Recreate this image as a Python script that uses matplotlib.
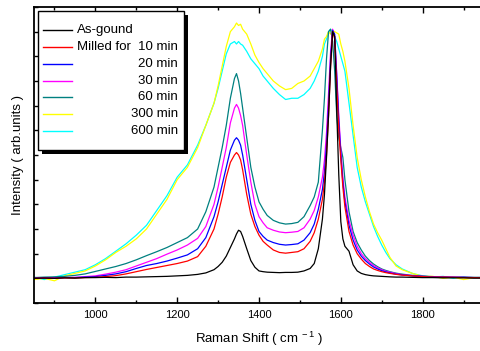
import matplotlib
matplotlib.use("Agg")
import matplotlib.pyplot as plt
from matplotlib.patches import Rectangle
from matplotlib.ticker import MultipleLocator

plt.rcParams['font.family'] = ['Liberation Sans', 'DejaVu Sans']
plt.rcParams['mathtext.fontset'] = 'custom'
plt.rcParams['mathtext.rm'] = 'Liberation Sans'
plt.rcParams['mathtext.it'] = 'Liberation Sans'

# Raman shift grid (cm^-1)
shift = [850, 875, 900, 925, 950, 975, 1000, 1025, 1050, 1075, 1100, 1125, 1150, 1175, 1200, 1225, 1250,
         1270, 1290, 1300, 1310, 1320, 1330, 1340, 1345, 1350, 1355, 1360, 1370, 1380, 1390, 1400, 1410,
         1420, 1435, 1450, 1465, 1480, 1495, 1510, 1525, 1535, 1545, 1555, 1560, 1565, 1570, 1575, 1580,
         1585, 1590, 1595, 1600, 1605, 1610, 1620, 1630, 1640, 1650, 1660, 1670, 1680, 1690, 1700, 1710,
         1720, 1735, 1750,
         1775, 1800, 1825, 1850, 1875, 1900, 1925, 1950]

as_ground = [0.00, 0.01, 0.00, 0.02, 0.01, 0.03, 0.03, 0.04, 0.03, 0.05, 0.05, 0.06, 0.07, 0.08, 0.10, 0.12, 0.16,
             0.22, 0.35, 0.48, 0.65, 0.90, 1.25, 1.60, 1.80, 1.95, 1.90, 1.70, 1.20, 0.72, 0.45, 0.30, 0.27,
             0.25, 0.24, 0.23, 0.24, 0.24, 0.25, 0.30, 0.40, 0.60, 1.20, 2.40, 3.40, 4.90, 6.60, 8.60, 10.0,
             9.80, 6.80, 4.20, 2.30, 1.60, 1.30, 1.10, 0.55, 0.30, 0.20, 0.15, 0.12, 0.10, 0.09, 0.08, 0.07,
             0.06, 0.05, 0.05,
             0.04, 0.03, 0.03, 0.02, 0.02, 0.02, 0.01, 0.01]

milled_10 = [0.00, 0.01, 0.00, 0.02, 0.01, 0.03, 0.04, 0.07, 0.11, 0.18, 0.27, 0.36, 0.44, 0.52, 0.60, 0.70, 0.88,
             1.30, 2.00, 2.60, 3.30, 4.10, 4.70, 5.00, 5.10, 5.00, 4.80, 4.40, 3.40, 2.60, 2.10, 1.75, 1.50,
             1.35, 1.15, 1.05, 1.02, 1.05, 1.08, 1.20, 1.50, 1.85, 2.40, 3.20, 3.90, 5.00, 6.60, 8.60, 10.0,
             9.70, 7.80, 6.00, 4.80, 3.70, 2.90, 1.90, 1.35, 1.00, 0.78, 0.60, 0.48, 0.38, 0.32, 0.27, 0.23,
             0.20, 0.16, 0.13,
             0.10, 0.07, 0.05, 0.05, 0.04, 0.03, 0.03, 0.02]

milled_20 = [0.00, 0.02, 0.01, 0.03, 0.03, 0.05, 0.07, 0.12, 0.18, 0.27, 0.40, 0.52, 0.60, 0.70, 0.82, 0.95, 1.20,
             1.65, 2.50, 3.10, 3.80, 4.50, 5.20, 5.60, 5.70, 5.60, 5.40, 5.00, 4.00, 3.00, 2.35, 1.90, 1.70,
             1.55, 1.45, 1.38, 1.35, 1.37, 1.40, 1.55, 1.85, 2.20, 2.80, 3.60, 4.30, 5.40, 7.00, 8.90, 10.05,
             9.90, 8.20, 6.40, 5.00, 3.90, 3.10, 2.15, 1.55, 1.15, 0.90, 0.72, 0.58, 0.46, 0.38, 0.31, 0.26,
             0.22, 0.17, 0.14,
             0.10, 0.08, 0.06, 0.05, 0.04, 0.04, 0.03, 0.03]

milled_30 = [0.00, 0.02, 0.02, 0.03, 0.04, 0.07, 0.10, 0.17, 0.25, 0.35, 0.50, 0.65, 0.80, 0.98, 1.15, 1.35, 1.62,
             2.10, 3.00, 3.70, 4.50, 5.30, 6.30, 6.90, 7.05, 6.90, 6.60, 6.20, 5.00, 3.90, 3.00, 2.50, 2.25,
             2.05, 1.95, 1.88, 1.85, 1.87, 1.90, 2.05, 2.40, 2.75, 3.30, 4.10, 4.80, 5.90, 7.50, 9.20, 10.1,
             9.80, 8.30, 6.60, 5.20, 4.10, 3.30, 2.35, 1.75, 1.30, 1.00, 0.80, 0.65, 0.52, 0.43, 0.35, 0.29,
             0.25, 0.19, 0.15,
             0.11, 0.08, 0.06, 0.05, 0.05, 0.04, 0.03, 0.03]

milled_60 = [0.03, 0.05, 0.06, 0.08, 0.12, 0.18, 0.28, 0.38, 0.48, 0.60, 0.75, 0.92, 1.08, 1.25, 1.45, 1.65, 2.00,
             2.70, 3.70, 4.50, 5.30, 6.20, 7.30, 8.10, 8.30, 8.00, 7.50, 6.90, 5.70, 4.50, 3.70, 3.10, 2.80,
             2.55, 2.35, 2.25, 2.20, 2.22, 2.27, 2.50, 2.95, 3.30, 3.90, 6.00, 7.30, 8.90, 10.0, 10.1, 9.60,
             8.40, 6.60, 5.70, 5.30, 4.90, 4.00, 2.70, 1.90, 1.45, 1.15, 0.90, 0.72, 0.58, 0.47, 0.38, 0.32,
             0.27, 0.21, 0.17,
             0.12, 0.09, 0.07, 0.06, 0.05, 0.05, 0.04, 0.04]

milled_300 = [-0.05, 0.00, -0.10, 0.10, 0.20, 0.30, 0.50, 0.75, 1.05, 1.30, 1.60, 2.00, 2.60, 3.20, 4.00, 4.50, 5.30,
              6.20, 7.10, 7.80, 8.60, 9.40, 10.0, 10.2, 10.35, 10.25, 10.3, 10.1, 9.90, 9.50, 9.05, 8.75, 8.50,
              8.30, 8.00, 7.80, 7.65, 7.70, 7.90, 8.00, 8.20, 8.50, 8.80, 9.30, 9.70, 9.80, 10.0, 9.90, 10.05,
              10.0, 9.95, 9.90, 9.50, 9.20, 8.80, 7.70, 6.20, 4.90, 4.00, 3.30, 2.70, 2.20, 1.85, 1.55, 1.20,
              0.85, 0.50, 0.35,
              0.20, 0.08, 0.08, 0.00, 0.05, -0.05, 0.02, 0.00]

milled_600 = [0.05, -0.05, 0.05, 0.15, 0.25, 0.35, 0.55, 0.80, 1.10, 1.40, 1.75, 2.15, 2.75, 3.35, 4.10, 4.60, 5.40,
              6.20, 7.10, 7.70, 8.40, 9.10, 9.50, 9.60, 9.50, 9.60, 9.50, 9.45, 9.20, 8.90, 8.70, 8.50, 8.20,
              8.00, 7.70, 7.45, 7.25, 7.30, 7.30, 7.45, 7.70, 8.00, 8.40, 9.00, 9.50, 9.70, 10.0, 10.1, 9.90,
              9.80, 9.60, 9.30, 9.00, 8.70, 8.40, 7.10, 5.80, 4.50, 3.70, 3.10, 2.60, 2.10, 1.70, 1.35, 1.05,
              0.80, 0.55, 0.38,
              0.20, 0.10, 0.05, 0.08, 0.00, 0.05, 0.00, 0.02]

labels = ["As-gound", "10 min", "20 min", "30 min", "60 min", "300 min", "600 min"]
series = [as_ground, milled_10, milled_20, milled_30, milled_60, milled_300, milled_600]
colors = ["#000000", "#ff0000", "#0000ff", "#ff00ff", "#008080", "#ffff00", "#00ffff"]

W, H = 480, 351
fig = plt.figure(figsize=(W / 100, H / 100), dpi=100)
ax = fig.add_axes([34 / W, 1 - 303 / H, 450 / W, 296 / H])

for s, c in reversed(list(zip(series, colors))):
    ax.plot(shift, s, color=c, lw=0.9)

ax.set_xlim(850, 1950)
ax.set_ylim(-1, 11)
ax.xaxis.set_major_locator(MultipleLocator(200))
ax.xaxis.set_minor_locator(MultipleLocator(100))
ax.yaxis.set_major_locator(MultipleLocator(1))
ax.tick_params(axis='x', which='both', direction='in', top=True, labelsize=8, pad=5)
ax.tick_params(axis='x', which='major', length=4, width=1)
ax.tick_params(axis='x', which='minor', length=2.5, width=1)
ax.tick_params(axis='y', which='both', direction='in', right=True, labelleft=False, length=3, width=1)
for sp in ax.spines.values():
    sp.set_linewidth(1.3)
ax.set_xlabel(r"Raman Shift ( cm$^{\ -1}$ )", fontsize=9.5, labelpad=7)
ax.set_ylabel("Intensity ( arb.units )", fontsize=9.5, labelpad=7)

# legend drawn in pixel coordinates
lg = fig.add_axes([0, 0, 1, 1], facecolor='none')
lg.set_xlim(0, W)
lg.set_ylim(H, 0)
lg.axis('off')
lg.add_patch(Rectangle((42, 15), 146, 139, facecolor='black', edgecolor='none'))
lg.add_patch(Rectangle((37.5, 10.5), 146, 139, facecolor='white', edgecolor='black', lw=1))
rows = [30, 47, 64, 81, 97, 114, 131]
for i, (lab, c) in enumerate(zip(labels, colors)):
    y = rows[i]
    lg.plot([43, 72], [y, y], color=c, lw=1)
    if i == 0:
        lg.text(77, y, lab, fontsize=9.5, va='center', ha='left')
    else:
        if i == 1:
            lg.text(77, y, "Milled for", fontsize=9.5, va='center', ha='left')
        lg.text(178, y, lab, fontsize=9.5, va='center', ha='right')

fig.savefig("out.png", dpi=100)
